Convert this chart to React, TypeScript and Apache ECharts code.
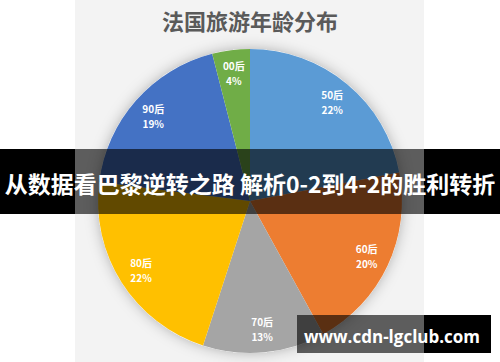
import React, { useEffect, useRef } from "react";
import * as echarts from "echarts";

const title = "法国旅游年龄分布";
const categories = ["50后", "60后", "70后", "80后", "90后", "00后"];
const values = [22, 20, 13, 22, 19, 4];
const colors = ["#5B9BD5", "#ED7D31", "#A5A5A5", "#FFC000", "#4472C4", "#70AD47"];
const bannerText = "从数据看巴黎逆转之路 解析0-2到4-2的胜利转折";
const watermarkText = "www.cdn-lgclub.com";

export default function App() {
  const ref = useRef<HTMLDivElement>(null);
  useEffect(() => {
    if (!ref.current) return;
    const chart = echarts.init(ref.current, null, { renderer: "svg" });
    const data = categories.map((c, i) => ({ name: c, value: values[i], itemStyle: { color: colors[i] } }));
    const font = "'Noto Sans CJK SC', 'Noto Sans', sans-serif";
    chart.setOption({
      animation: false,
      backgroundColor: "#ffffff",
      title: {
        text: title,
        left: "center",
        top: 4,
        textStyle: { color: "#5a5a5a", fontSize: 22, fontWeight: "bold", fontFamily: font },
      },
      series: [
        {
          type: "pie",
          silent: true,
          center: [250, 201],
          radius: [0, 152],
          z: 1,
          label: { show: false },
          labelLine: { show: false },
          itemStyle: { color: "#ffffff", shadowBlur: 14, shadowColor: "rgba(0,0,0,0.28)" },
          data: [{ value: 1 }],
        },
        {
          type: "pie",
          center: [250, 201],
          radius: [0, 152],
          startAngle: 90,
          clockwise: true,
          z: 2,
          label: { show: false },
          labelLine: { show: false },
          data,
        },
        {
          type: "pie",
          center: [250, 201],
          radius: [100, 152],
          startAngle: 90,
          clockwise: true,
          silent: true,
          z: 3,
          itemStyle: { color: "rgba(0,0,0,0)" },
          label: {
            show: true,
            position: "inside",
            formatter: (p: any) => `${p.name}\n${p.value}%`,
            color: "#ffffff",
            fontSize: 10,
            fontWeight: "bold",
            lineHeight: 15,
            fontFamily: font,
          },
          labelLine: { show: false },
          data: categories.map((c, i) => ({ name: c, value: values[i] })),
        },
      ],
      graphic: [
        { type: "rect", z: -10, shape: { x: 75, y: 0, width: 349, height: 362 }, style: { fill: "#f3f3f3" } },
        { type: "rect", z: 100, shape: { x: 0, y: 149, width: 75, height: 65 }, style: { fill: "#000000" } },
        { type: "rect", z: 100, shape: { x: 424, y: 149, width: 76, height: 65 }, style: { fill: "#000000" } },
        { type: "rect", z: 100, shape: { x: 75, y: 149, width: 349, height: 65 }, style: { fill: "rgba(0,0,0,0.62)" } },
        {
          type: "text",
          z: 101,
          x: 250,
          y: 183,
          style: {
            text: bannerText,
            fill: "#ffffff",
            fontSize: 23,
            fontWeight: "bold",
            fontFamily: font,
            align: "center",
            verticalAlign: "middle",
          },
        },
        { type: "rect", z: 100, shape: { x: 297, y: 315, width: 127, height: 38 }, style: { fill: "rgba(0,0,0,0.62)" } },
        { type: "rect", z: 100, shape: { x: 424, y: 315, width: 67, height: 38 }, style: { fill: "#000000" } },
        {
          type: "text",
          z: 101,
          x: 392,
          y: 336,
          style: {
            text: watermarkText,
            fill: "#ffffff",
            fontSize: 17,
            fontWeight: "bold",
            fontFamily: "'Open Sans', 'Noto Sans', sans-serif",
            align: "center",
            verticalAlign: "middle",
          },
        },
      ],
    });
    return () => chart.dispose();
  }, []);
  return <div ref={ref} style={{ position: "fixed", left: 0, top: 0, width: 500, height: 362 }} />;
}
